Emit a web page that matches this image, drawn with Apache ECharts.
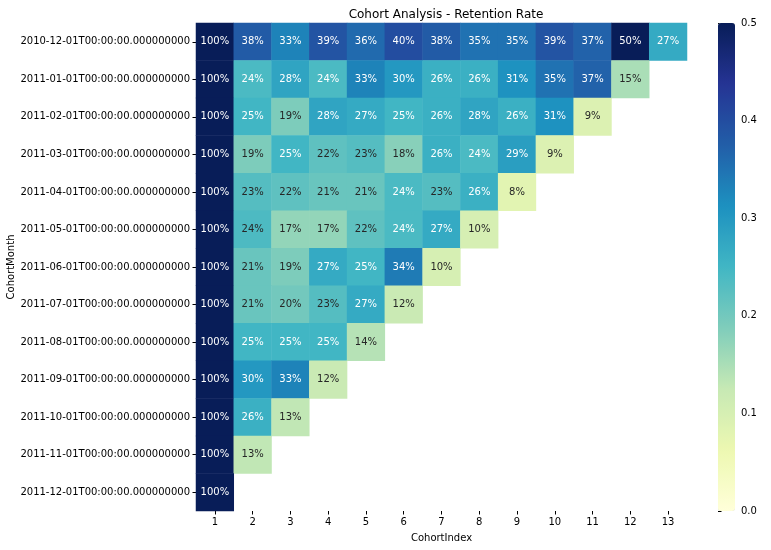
<!DOCTYPE html>
<html>
<head>
<meta charset="utf-8">
<script src="https://cdn.jsdelivr.net/npm/echarts@6/dist/echarts.min.js"></script>
<style>
  * { margin: 0; padding: 0; }
  #chart { width: 771px; height: 550px; background: #fff; }
</style>
</head>
<body>
<div id="chart"></div>
<script>
// cohort months (rows) and cohort index (columns)
var cohortMonths = [
  '2010-12-01T00:00:00.000000000', '2011-01-01T00:00:00.000000000',
  '2011-02-01T00:00:00.000000000', '2011-03-01T00:00:00.000000000',
  '2011-04-01T00:00:00.000000000', '2011-05-01T00:00:00.000000000',
  '2011-06-01T00:00:00.000000000', '2011-07-01T00:00:00.000000000',
  '2011-08-01T00:00:00.000000000', '2011-09-01T00:00:00.000000000',
  '2011-10-01T00:00:00.000000000', '2011-11-01T00:00:00.000000000',
  '2011-12-01T00:00:00.000000000'
];
var cohortIndex = ['1', '2', '3', '4', '5', '6', '7', '8', '9', '10', '11', '12', '13'];

// retention rate per cohort row
var r2010_12 = [1.00, 0.38, 0.33, 0.39, 0.36, 0.40, 0.38, 0.35, 0.35, 0.39, 0.37, 0.50, 0.27];
var r2011_01 = [1.00, 0.24, 0.28, 0.24, 0.33, 0.30, 0.26, 0.26, 0.31, 0.35, 0.37, 0.15];
var r2011_02 = [1.00, 0.25, 0.19, 0.28, 0.27, 0.25, 0.26, 0.28, 0.26, 0.31, 0.09];
var r2011_03 = [1.00, 0.19, 0.25, 0.22, 0.23, 0.18, 0.26, 0.24, 0.29, 0.09];
var r2011_04 = [1.00, 0.23, 0.22, 0.21, 0.21, 0.24, 0.23, 0.26, 0.08];
var r2011_05 = [1.00, 0.238, 0.17, 0.17, 0.22, 0.24, 0.27, 0.10];
var r2011_06 = [1.00, 0.21, 0.19, 0.27, 0.25, 0.34, 0.10];
var r2011_07 = [1.00, 0.21, 0.20, 0.23, 0.27, 0.12];
var r2011_08 = [1.00, 0.25, 0.25, 0.25, 0.14];
var r2011_09 = [1.00, 0.30, 0.33, 0.12];
var r2011_10 = [1.00, 0.26, 0.13];
var r2011_11 = [1.00, 0.13];
var r2011_12 = [1.00];

var colorTicks = [0.0, 0.1, 0.2, 0.3, 0.4, 0.5];

var rows = [r2010_12, r2011_01, r2011_02, r2011_03, r2011_04, r2011_05, r2011_06,
            r2011_07, r2011_08, r2011_09, r2011_10, r2011_11, r2011_12];

var ylgnbu = ['#ffffd9', '#edf8b1', '#c7e9b4', '#7fcdbb', '#41b6c4',
              '#1d91c0', '#225ea8', '#253494', '#081d58'];

var cells = [];
rows.forEach(function (row, y) {
  row.forEach(function (v, x) {
    cells.push({
      value: [x, y, v],
      label: { color: v >= 0.24 ? '#ffffff' : '#262626' }
    });
  });
});

var font = 'DejaVu Sans';

var option = {
  backgroundColor: '#fff',
  title: {
    text: 'Cohort Analysis - Retention Rate',
    left: 441, top: 4, textAlign: 'center',
    textStyle: { fontFamily: font, fontSize: 12, fontWeight: 'normal', color: '#000' }
  },
  grid: [
    { left: 196, right: 84, top: 23, bottom: 39, outerBoundsMode: 'none', containLabel: false },
    { left: 718, width: 17, top: 23, bottom: 39, outerBoundsMode: 'none', containLabel: false }
  ],
  xAxis: [{
    type: 'category', data: cohortIndex, gridIndex: 0,
    name: 'CohortIndex', nameLocation: 'middle', nameGap: 22,
    nameTextStyle: { fontFamily: font, fontSize: 10, color: '#000' },
    axisLine: { show: false },
    axisTick: { show: true, alignWithLabel: true, length: 3.5, lineStyle: { color: '#000' } },
    axisLabel: { fontFamily: font, fontSize: 10, color: '#000', margin: 6 },
    splitLine: { show: false }
  }, {
    type: 'value', gridIndex: 1, show: false
  }],
  yAxis: [{
    type: 'category', data: cohortMonths, inverse: true, gridIndex: 0,
    name: 'CohortMonth', nameLocation: 'middle', nameGap: 180, nameRotate: 90,
    nameMoveOverlap: false,
    nameTextStyle: { fontFamily: font, fontSize: 10, color: '#000' },
    axisLine: { show: false },
    axisTick: { show: true, alignWithLabel: true, length: 3.5, lineStyle: { color: '#000' } },
    axisLabel: { fontFamily: font, fontSize: 10, color: '#000', margin: 6 },
    splitLine: { show: false }
  }, {
    type: 'value', gridIndex: 1, position: 'right',
    min: 0, max: 0.5, interval: 0.1,
    axisLine: { show: false },
    axisTick: { show: true, length: 3.5, lineStyle: { color: '#000' } },
    axisLabel: {
      fontFamily: font, fontSize: 10, color: '#000', margin: 6,
      formatter: function (v) { return v.toFixed(1); }
    },
    splitLine: { show: false }
  }],
  visualMap: {
    type: 'continuous', min: 0, max: 0.5,
    calculable: false, show: true,
    left: 718, top: 23, itemWidth: 17, itemHeight: 488,
    padding: 0, text: null, showLabel: false,
    inRange: { color: ylgnbu },
    seriesIndex: 0
  },
  series: [{
    type: 'heatmap',
    xAxisIndex: 0, yAxisIndex: 0,
    data: cells,
    label: {
      show: true, fontFamily: font, fontSize: 10,
      formatter: function (p) { return Math.round(p.value[2] * 100) + '%'; }
    },
    emphasis: { disabled: true }
  }]
};

var chart = echarts.init(document.getElementById('chart'));
chart.setOption(option);
</script>
</body>
</html>
